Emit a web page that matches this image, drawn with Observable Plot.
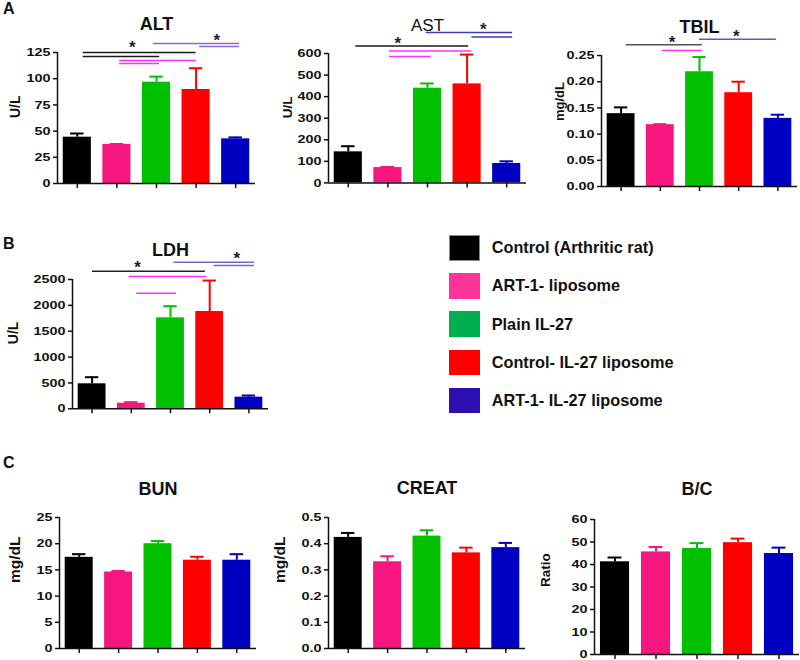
<!DOCTYPE html>
<html><head><meta charset="utf-8">
<script src="https://cdn.jsdelivr.net/npm/d3@7"></script>
<script src="https://cdn.jsdelivr.net/npm/@observablehq/plot@0.6"></script>
<style>
html,body{margin:0;padding:0;background:#fff;overflow:hidden;}
#root{position:relative;width:800px;height:660px;font-family:"Liberation Sans",Arial,sans-serif;overflow:hidden;}
.panel{position:absolute;}
.letter{position:absolute;font-weight:bold;font-size:16px;line-height:1;color:#111;}
.sw{position:absolute;box-sizing:border-box;}
.lt{position:absolute;font-weight:bold;font-size:16.3px;color:#111;display:flex;align-items:center;white-space:nowrap;}
</style></head><body><div id="root"></div>
<script>
// ---------- data ----------
const groups = ["Control (Arthritic rat)", "ART-1- liposome", "Plain IL-27", "Control- IL-27 liposome", "ART-1- IL-27 liposome"];
const groupIndex = [0, 1, 2, 3, 4];

const altMean = [44.2, 37.3, 96.7, 89.7, 42.6];
const altSem = [3.5, 0.4, 5.3, 20.3, 1.4];
const altTicks = [0, 25, 50, 75, 100, 125];

const astMean = [144, 71, 439, 459, 90];
const astSem = [26, 3, 22, 136, 10];
const astTicks = [0, 100, 200, 300, 400, 500, 600];

const tbilMean = [0.139, 0.118, 0.219, 0.179, 0.130];
const tbilSem = [0.012, 0.001, 0.028, 0.021, 0.007];
const tbilTicks = [0, 0.05, 0.10, 0.15, 0.20, 0.25];

const ldhMean = [483, 108, 1759, 1881, 225];
const ldhSem = [128, 20, 225, 599, 32];
const ldhTicks = [0, 500, 1000, 1500, 2000, 2500];

const bunMean = [17.4, 14.6, 20.0, 16.85, 16.85];
const bunSem = [0.6, 0.2, 0.5, 0.65, 1.15];
const bunTicks = [0, 5, 10, 15, 20, 25];

const creatMean = [0.424, 0.331, 0.429, 0.365, 0.385];
const creatSem = [0.017, 0.021, 0.022, 0.020, 0.018];
const creatTicks = [0, 0.1, 0.2, 0.3, 0.4, 0.5];

const bcMean = [41.2, 45.6, 47.1, 49.7, 44.9];
const bcSem = [1.9, 2.2, 2.4, 1.8, 2.6];
const bcTicks = [0, 10, 20, 30, 40, 50, 60];

// significance brackets: from/to in group-index units, level in data units, ref = reference group
const altSig = [
  {from: 0.15, to: 3.0, level: 125, ref: 0},
  {from: 0.15, to: 2.08, level: 121.2, ref: 0},
  {from: 1.07, to: 3.0, level: 117.3, ref: 1},
  {from: 1.07, to: 2.08, level: 114.5, ref: 1},
  {from: 1.92, to: 4.1, level: 133.6, ref: 4},
  {from: 3.09, to: 4.1, level: 130.7, ref: 4}
];
const altStars = [{at: 1.39, level: 133.6}, {at: 3.52, level: 140.3}];

const astSig = [
  {from: 0.19, to: 3.04, level: 635, ref: 0},
  {from: 1.04, to: 3.12, level: 612, ref: 1},
  {from: 1.04, to: 2.09, level: 586, ref: 1},
  {from: 1.97, to: 4.15, level: 697, ref: 4},
  {from: 3.12, to: 4.15, level: 677, ref: 4}
];
const astStars = [{at: 1.25, level: 665}, {at: 3.41, level: 728}];

const tbilSig = [
  {from: 0.13, to: 2.07, level: 0.2704, ref: 0},
  {from: 1.05, to: 2.07, level: 0.2595, ref: 1},
  {from: 2.0, to: 3.96, level: 0.281, ref: 4}
];
const tbilStars = [{at: 1.30, level: 0.282}, {at: 2.94, level: 0.2945}];

const ldhSig = [
  {from: 0.01, to: 2.89, level: 2660, ref: 0},
  {from: 0.95, to: 2.93, level: 2557, ref: 1},
  {from: 1.14, to: 2.15, level: 2235, ref: 1},
  {from: 2.09, to: 4.14, level: 2834, ref: 4},
  {from: 3.11, to: 4.14, level: 2770, ref: 4}
];
const ldhStars = [{at: 1.16, level: 2803}, {at: 3.69, level: 2977}];

// ---------- styles ----------
const barColors = ["#000000", "#f5167f", "#00c000", "#ff0000", "#0000c0"];
const legendColors = ["#000000", "#ff3399", "#00b050", "#ff0000", "#2b0fb0"];
const FONT = '"Liberation Sans", Arial, sans-serif';

const root = document.getElementById("root");

function panel(cfg) {
  const mL = 70, mT = 62, mR = 3, mB = 12;
  const w = cfg.x1 - cfg.x0, h = cfg.yBot - cfg.yTop;
  const ymax = cfg.ticks[cfg.ticks.length - 1];
  const xd = [-0.5, 4.5];
  const data = groupIndex.map(i => ({i, m: cfg.mean[i], top: cfg.mean[i] + cfg.sem[i], c: barColors[i]}));
  const sigColor = r => r === 0 ? cfg.c0 : r === 1 ? "#ff30ff" : cfg.c4;
  const marks = [
    Plot.rectY(data, {x1: d => d.i - 0.355, x2: d => d.i + 0.355, y1: 0, y2: "m", fill: "c"}),
    Plot.ruleX(data, {x: "i", y1: "m", y2: "top", stroke: "c", strokeWidth: 2}),
    Plot.ruleY(data, {y: "top", x1: d => d.i - 0.17, x2: d => d.i + 0.17, stroke: "c", strokeWidth: 2}),
    Plot.ruleX([xd[0]], {y1: 0, y2: ymax, stroke: "#111", strokeWidth: 1.5}),
    Plot.ruleY([0], {stroke: "#111", strokeWidth: 1.5}),
    Plot.axisY({ticks: cfg.ticks, tickSize: 4, tickPadding: 3, tickFormat: cfg.fmt, fontSize: 11.5, fontWeight: "bold", fill: "#111", stroke: "#111", strokeWidth: 1.5, label: null}),
    Plot.axisX({ticks: groupIndex, tickSize: 5, tickFormat: () => "", stroke: "#111", strokeWidth: 1.5, label: null}),
    Plot.text([cfg.title], {text: d => d, frameAnchor: "top", dy: cfg.titleBase - cfg.yTop, lineAnchor: "bottom", fontSize: cfg.titleSize || 18, fontWeight: cfg.titleWeight || "bold", fill: "#111"}),
    Plot.text([cfg.ylabel], {text: d => d, frameAnchor: "left", rotate: -90, dx: cfg.labelDx, fontSize: cfg.labelSize, fontWeight: "bold", fill: "#111"})
  ];
  if (cfg.sig) {
    marks.push(Plot.ruleY(cfg.sig, {y: "level", x1: "from", x2: "to", stroke: d => sigColor(d.ref), strokeWidth: 1.5}));
    marks.push(Plot.text(cfg.stars, {x: "at", y: "level", text: () => "*", fontSize: 17, fontWeight: "bold", fill: "#1c1c3a", lineAnchor: "middle", dy: 4}));
  }
  const svg = Plot.plot({
    width: w + mL + mR, height: h + mT + mB,
    marginLeft: mL, marginTop: mT, marginRight: mR, marginBottom: mB,
    x: {domain: xd},
    y: {domain: [0, ymax]},
    color: {type: "identity"},
    style: {fontFamily: FONT, background: "transparent", overflow: "visible", maxWidth: "none"},
    marks
  });
  // widen tick labels horizontally like the original
  svg.querySelectorAll('[aria-label="y-axis tick label"] text').forEach(t => {
    const tr = t.getAttribute("transform") || "";
    t.setAttribute("transform", tr + " scale(1.25,1)");
  });
  const div = document.createElement("div");
  div.className = "panel";
  div.style.left = (cfg.x0 - mL) + "px";
  div.style.top = (cfg.yTop - mT) + "px";
  div.style.width = (w + mL + mR) + "px";
  div.appendChild(svg);
  root.appendChild(div);
}

const f2 = d3.format(".2f"), f1 = d3.format(".1f"), f0 = d => String(d);

panel({title: "ALT", ylabel: "U/L", mean: altMean, sem: altSem, ticks: altTicks, fmt: f0, sig: altSig, stars: altStars,
  x0: 57, x1: 255, yTop: 52, yBot: 183, titleBase: 29.5, labelDx: -42, labelSize: 14, c0: "#1a1a1a", c4: "#8a6ad6"});
panel({title: "AST", ylabel: "U/L", mean: astMean, sem: astSem, ticks: astTicks, fmt: f0, sig: astSig, stars: astStars,
  x0: 328.3, x1: 526.3, yTop: 53.3, yBot: 182.7, titleBase: 31, titleWeight: "normal", titleSize: 17, labelDx: -40.6, labelSize: 13.5, c0: "#1a1a1a", c4: "#3c3cb4"});
panel({title: "TBIL", ylabel: "mg/dL", mean: tbilMean, sem: tbilSem, ticks: tbilTicks, fmt: f2, sig: tbilSig, stars: tbilStars,
  x0: 601, x1: 797, yTop: 55, yBot: 186, titleBase: 32.5, labelDx: -42, labelSize: 13, c0: "#555555", c4: "#5858c4"});
panel({title: "LDH", ylabel: "U/L", mean: ldhMean, sem: ldhSem, ticks: ldhTicks, fmt: f0, sig: ldhSig, stars: ldhStars,
  x0: 72.3, x1: 268.3, yTop: 279, yBot: 408.3, titleBase: 255.7, labelDx: -59, labelSize: 14, c0: "#222222", c4: "#6c6cc8"});
panel({title: "BUN", ylabel: "mg/dL", mean: bunMean, sem: bunSem, ticks: bunTicks, fmt: f0,
  x0: 59.3, x1: 256.3, yTop: 517.3, yBot: 648.3, titleBase: 494.7, labelDx: -44.3, labelSize: 15.5});
panel({title: "CREAT", ylabel: "mg/dL", mean: creatMean, sem: creatSem, ticks: creatTicks, fmt: f1,
  x0: 328.3, x1: 525.3, yTop: 517.3, yBot: 648.3, titleBase: 493.7, labelDx: -48.3, labelSize: 15.5});
panel({title: "B/C", ylabel: "Ratio", mean: bcMean, sem: bcSem, ticks: bcTicks, fmt: f0,
  x0: 594, x1: 799, yTop: 518.5, yBot: 653.5, titleBase: 493.7, labelDx: -49, labelSize: 13.5});

// panel letters
[["A", 3, 1], ["B", 3, 236], ["C", 3, 454.7]].forEach(([t, x, y]) => {
  const d = document.createElement("div");
  d.className = "letter"; d.textContent = t;
  d.style.left = x + "px"; d.style.top = y + "px";
  root.appendChild(d);
});

// legend
groups.forEach((g, i) => {
  const top = 235 + 38.2 * i;
  const s = document.createElement("div");
  s.className = "sw";
  s.style.left = "449px"; s.style.top = top + "px";
  s.style.width = "31px"; s.style.height = "25.5px";
  s.style.background = legendColors[i];
  s.style.border = "1px solid rgba(255,255,255,0.45)";
  s.style.outline = "1px solid " + (i === 0 ? "#888" : legendColors[i]);
  s.style.outlineOffset = "-1px";
  root.appendChild(s);
  const t = document.createElement("div");
  t.className = "lt"; t.textContent = g;
  t.style.left = "491.7px"; t.style.top = top + "px"; t.style.height = "25.5px";
  root.appendChild(t);
});
</script></body></html>
